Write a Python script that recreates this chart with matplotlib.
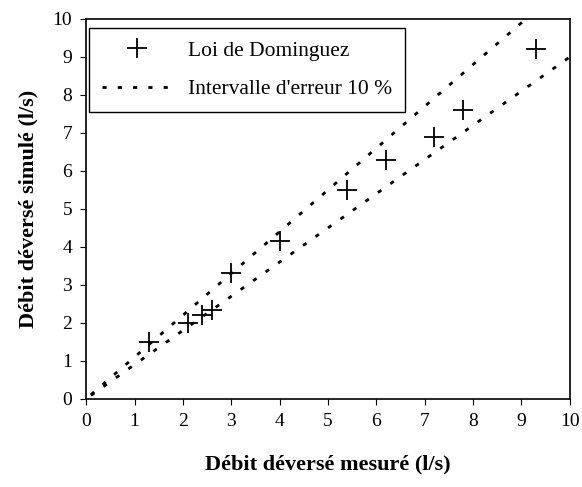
import numpy as np
import matplotlib.pyplot as plt

plt.rcParams['font.family'] = ['Liberation Serif', 'DejaVu Serif']

# debits mesures / simules (l/s)
q_mesure = [1.3, 2.1, 2.4, 2.6, 3.0, 4.0, 5.4, 6.2, 7.2, 7.8, 9.3]
q_simule = [1.5, 2.0, 2.2, 2.35, 3.3, 4.15, 5.5, 6.3, 6.9, 7.6, 9.2]

# intervalle d'erreur 10 %
x_int = [0.1, 10]
erreur = 0.10

fig = plt.figure(figsize=(5.82, 4.87), dpi=100)
ax = fig.add_axes([0.148, 0.181, 0.831, 0.78])

ax.plot(q_mesure, q_simule, '+', color='k', markersize=14, markeredgewidth=1.3,
        linestyle='none', label='Loi de Dominguez')
xs = np.array(x_int)
ax.plot(xs, xs * (1 + erreur), color='k', linestyle=(0, (1.5, 4)), linewidth=2,
        label="Intervalle d'erreur 10 %")
ax.plot(xs, xs * (1 - erreur), color='k', linestyle=(0, (1.5, 4)), linewidth=2)

ax.set_xlim(0, 10)
ax.set_ylim(0, 10)
ax.set_xticks(range(0, 11))
ax.set_yticks(range(0, 11))
ax.tick_params(labelsize=14, direction='out', length=4, color='k', pad=6)
for s in ax.spines.values():
    s.set_linewidth(1.2)

ax.set_xlabel('Débit déversé mesuré (l/s)', fontsize=16, fontweight='bold', labelpad=18)
ax.set_ylabel('Débit déversé simulé (l/s)', fontsize=16, fontweight='bold', labelpad=10)

leg = ax.legend(loc='upper left', fontsize=15.5, fancybox=False, framealpha=1,
                edgecolor='k', borderaxespad=0.15, handlelength=3.2, borderpad=0.6,
                labelspacing=0.85, handletextpad=0.8, bbox_to_anchor=(0.0, 0.985))
leg.get_frame().set_linewidth(1.0)

fig.savefig('out.png', dpi=100)
